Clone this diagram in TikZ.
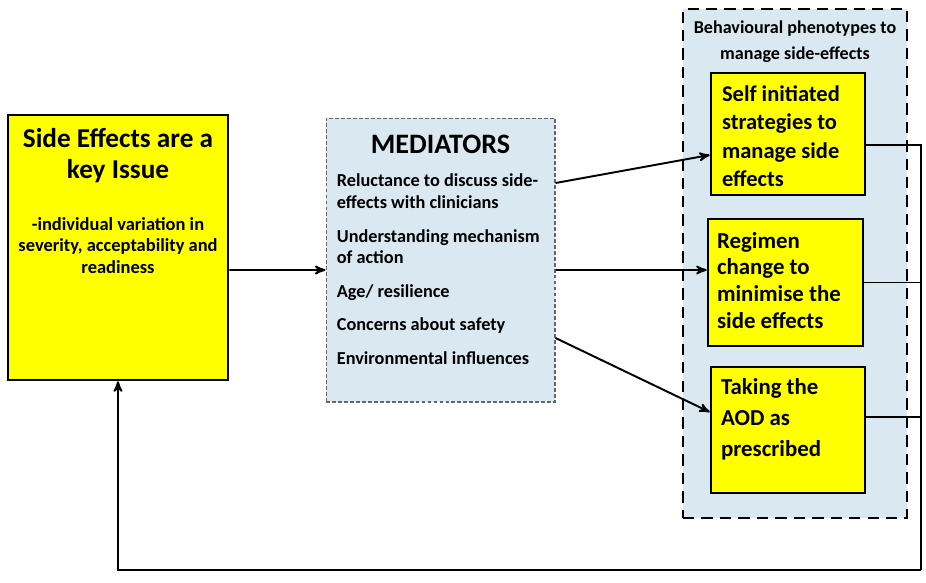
\documentclass[tikz,border=0pt]{standalone}
\usepackage{fontspec}
\setmainfont{Carlito}
\usetikzlibrary{arrows,positioning}
\definecolor{medblue}{HTML}{DAE9F1}
\definecolor{boxyellow}{HTML}{FFFF00}

\begin{document}
\begin{tikzpicture}[x=0.02cm,y=-0.02cm,>=stealth',font=\bfseries]
        \tikzstyle{issue}=[rectangle,draw,line width=1.5pt,fill=boxyellow,inner sep=0pt]
        \tikzstyle{mediator}=[rectangle,draw=black!60,line width=0.6pt,dash pattern=on 2.2pt off 1.2pt,fill=medblue,inner sep=0pt]
        \tikzstyle{phenogroup}=[rectangle,draw,line width=1.1pt,dash pattern=on 6.5pt off 4pt,fill=medblue,inner sep=0pt]
        \tikzstyle{txt}=[inner sep=0pt,align=left]
        \tikzstyle{arr}=[->,line width=1.1pt]
        \tikzstyle{fb}=[line width=0.9pt]

        \useasboundingbox (0,0) rectangle (926,582);

        % left box
        \node [issue, minimum width=4.4cm, minimum height=5.3cm] (issue) at (118,247.5) {};
        \node [txt, align=center, font=\bfseries\fontsize{15.5}{18}\selectfont, below=0.28cm of issue.north] (issuetitle) {Side Effects are a\\key Issue};
        \node [txt, align=center, font=\bfseries\fontsize{10.5}{12.5}\selectfont, below=2.06cm of issue.north] (issuesub) {-individual variation in\\severity, acceptability and\\readiness};

        % mediators
        \node [mediator, minimum width=4.58cm, minimum height=5.68cm] (med) at (440.5,260) {};
        \node [txt, font=\bfseries\fontsize{16}{18}\selectfont, below=0.34cm of med.north] (medtitle) {MEDIATORS};
        \node [txt, anchor=north west, font=\bfseries\fontsize{10.4}{12.5}\selectfont] (meditems) at ([xshift=0.22cm,yshift=-1.12cm]med.north west)
            {Reluctance to discuss side-\\effects with clinicians\\[6.5pt]
             Understanding mechanism\\of action\\[6.5pt]
             Age/ resilience\\[6.5pt]
             Concerns about safety\\[6.5pt]
             Environmental influences};

        % phenotypes
        \node [phenogroup, minimum width=4.48cm, minimum height=10.18cm] (grp) at (795,263.5) {};
        \node [txt, align=center, font=\bfseries\fontsize{10.3}{15}\selectfont, below=0.24cm of grp.north] (grptitle) {Behavioural phenotypes to\\manage side-effects};

        \node [issue, minimum width=3.08cm, minimum height=2.44cm] (s1) at (788,134) {}; %self initiated
        \node [txt, anchor=north west, font=\bfseries\fontsize{12.8}{16}\selectfont] (s1txt) at ([xshift=0.24cm,yshift=-0.28cm]s1.north west)
            {Self initiated\\strategies to\\manage side\\effects};
        \node [issue, minimum width=3.1cm, minimum height=2.54cm] (s2) at (785.5,282.5) {}; %regimen
        \node [txt, anchor=north west, font=\bfseries\fontsize{13}{15.3}\selectfont] (s2txt) at ([xshift=0.2cm,yshift=-0.28cm]s2.north west)
            {Regimen\\change to\\minimise the\\side effects};
        \node [issue, minimum width=3.08cm, minimum height=2.52cm] (s3) at (788,430) {}; %as prescribed
        \node [txt, anchor=north west, font=\bfseries\fontsize{13}{17.8}\selectfont] (s3txt) at ([xshift=0.22cm,yshift=-0.24cm]s3.north west)
            {Taking the\\AOD as\\prescribed};

        % arrows
        \draw [arr] ([yshift=-0.45cm]issue.east) -- ([yshift=-0.2cm]med.west);
        \draw [arr] ([yshift=1.54cm]med.east) -- ([yshift=-0.42cm]s1.west);
        \draw [arr] ([yshift=-0.2cm]med.east) -- ([yshift=0.25cm]s2.west);
        \draw [arr] ([yshift=-1.56cm]med.east) -- ([yshift=0.36cm]s3.west);

        % feedback loop
        \coordinate (loop) at (921,570);
        \draw [fb] ([yshift=-0.22cm]s1.east) -| (loop);
        \draw [fb] (s2.east) -- (s2.east -| loop);
        \draw [fb] ([yshift=0.26cm]s3.east) coordinate (s3out) -- (s3out -| loop);
        \draw [arr] (loop) -| (issue.south);
\end{tikzpicture}
\end{document}
